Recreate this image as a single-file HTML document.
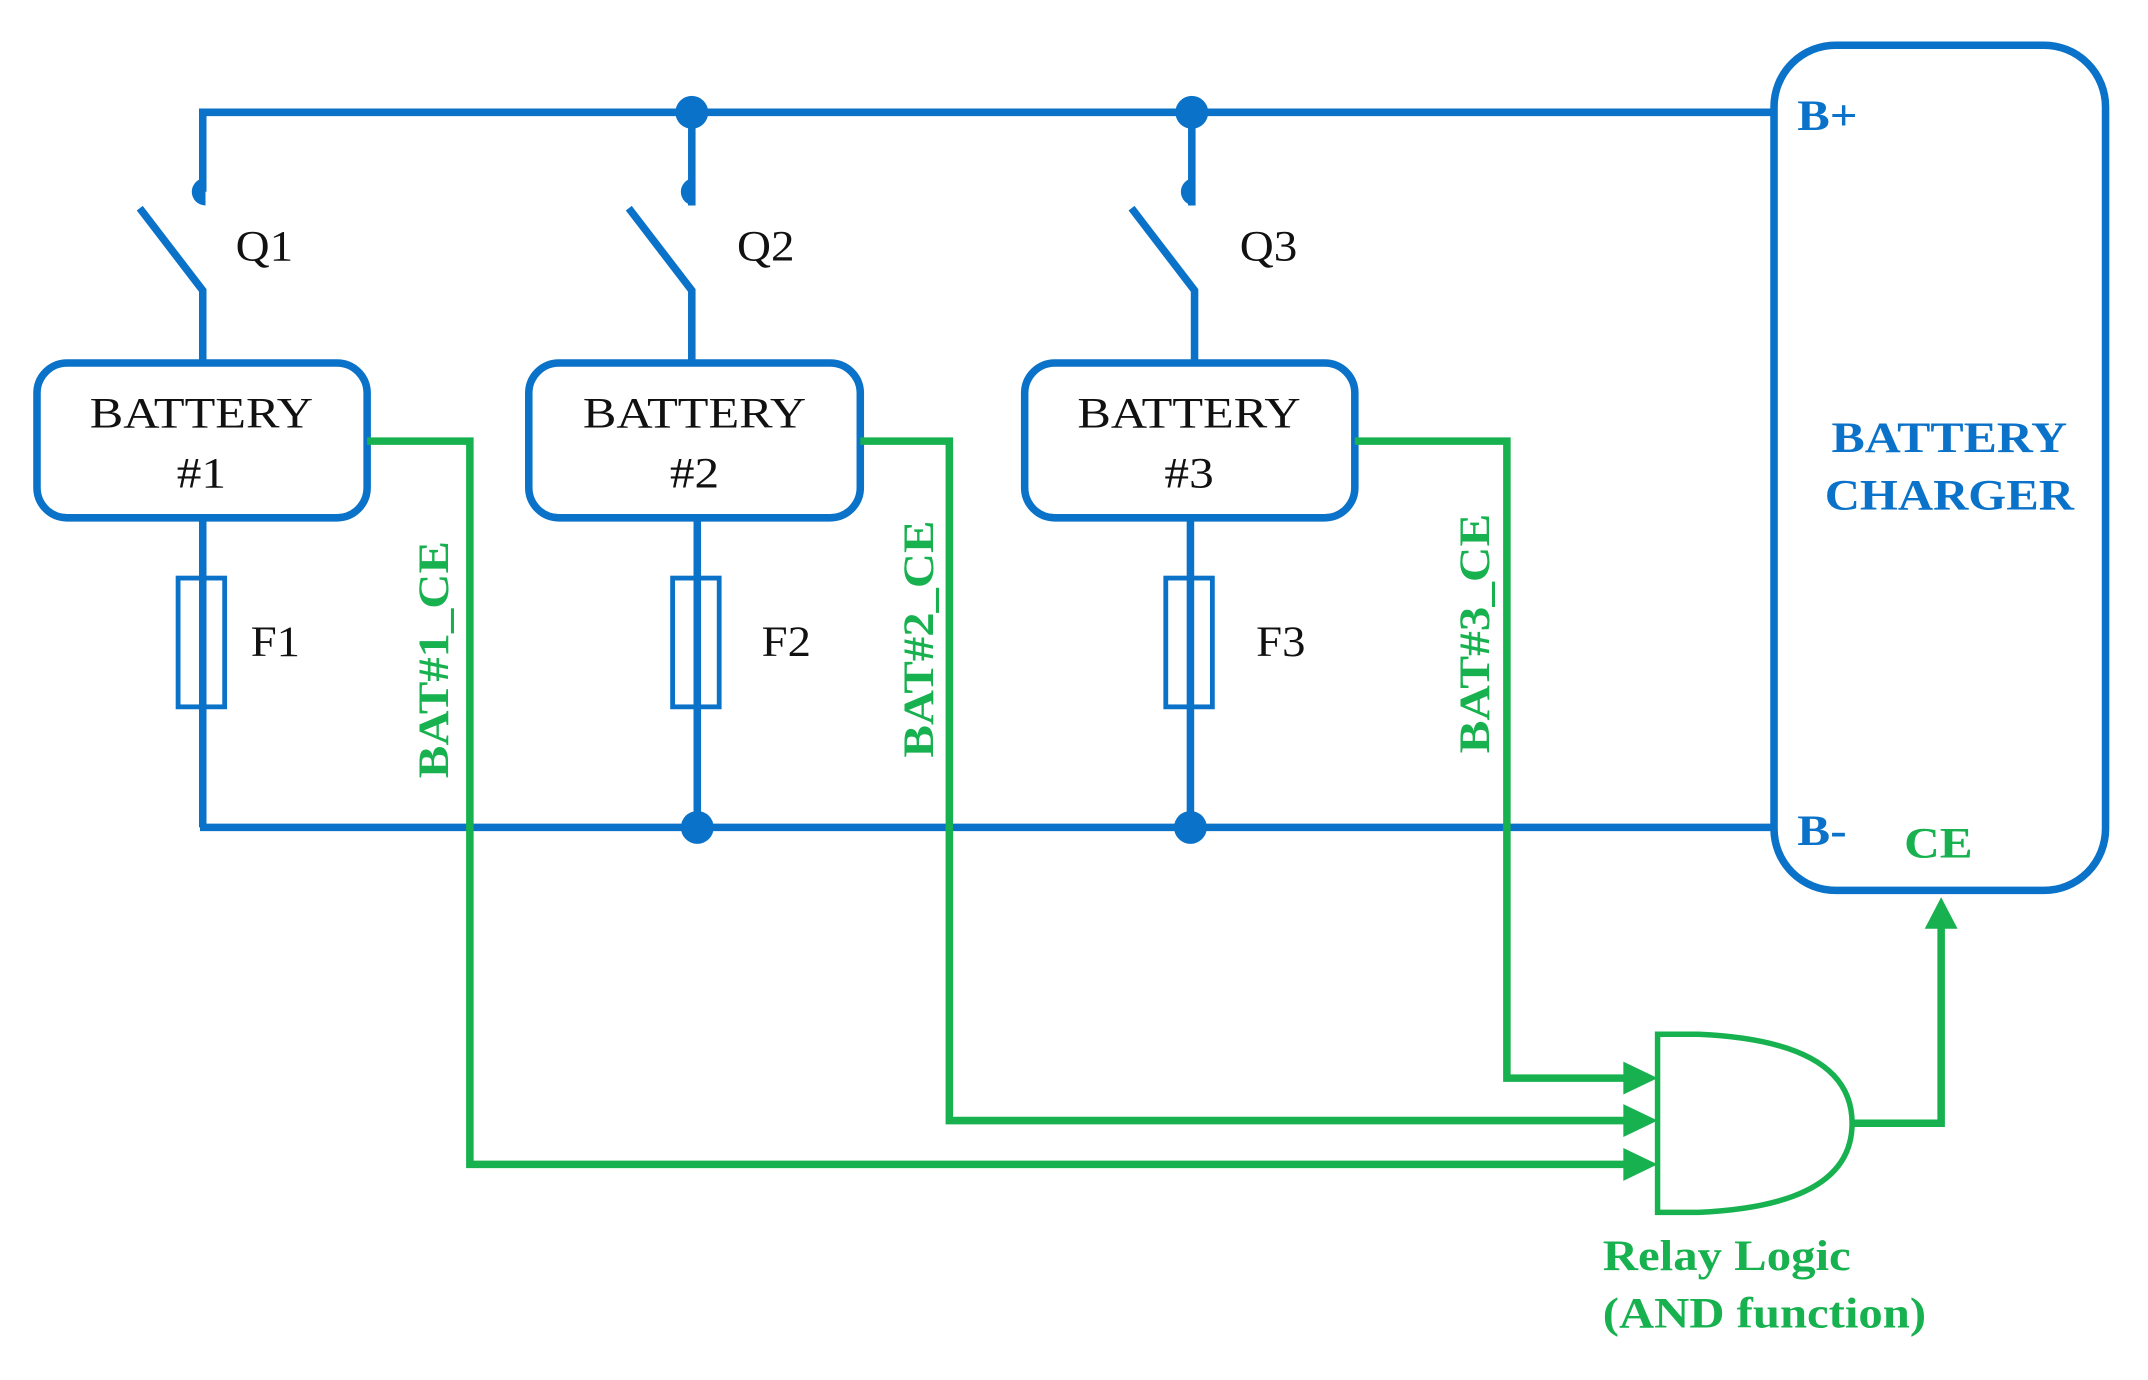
<!DOCTYPE html>
<html><head><meta charset="utf-8"><style>
html,body{margin:0;padding:0;background:#fff;}
svg{display:block;}
text{font-family:"Liberation Serif",serif;}
</style></head><body>
<svg width="2148" height="1380" viewBox="0 0 1568 1007.4" preserveAspectRatio="none" xmlns="http://www.w3.org/2000/svg">
<g stroke="#0a72c8" stroke-width="5.5" fill="none">
  <polyline points="148,140 148,82 1295,82"/>
  <line x1="505" y1="82" x2="505" y2="150"/>
  <line x1="870" y1="82" x2="870" y2="150"/>
  <polyline points="102,152 148,212 148,265"/>
  <polyline points="459,152 505,212 505,265"/>
  <polyline points="826,152 872,212 872,265"/>
  <rect x="27" y="265" width="241" height="113" rx="22"/>
  <rect x="386" y="265" width="242" height="113" rx="22"/>
  <rect x="748" y="265" width="241" height="113" rx="22"/>
  <line x1="148" y1="378" x2="148" y2="604"/>
  <line x1="509" y1="378" x2="509" y2="604"/>
  <line x1="869" y1="378" x2="869" y2="604"/>
  <rect x="130" y="422" width="34" height="94" stroke-width="3.5"/>
  <rect x="491" y="422" width="34" height="94" stroke-width="3.5"/>
  <rect x="851" y="422" width="34" height="94" stroke-width="3.5"/>
  <line x1="146" y1="604" x2="1295" y2="604"/>
  <rect x="1295" y="33" width="242" height="617" rx="45"/>
</g>
<g fill="#0a72c8">
  <circle cx="505" cy="82" r="12"/>
  <circle cx="870" cy="82" r="12"/>
  <circle cx="509" cy="604" r="12"/>
  <circle cx="869" cy="604" r="12"/>
  <path d="M150,130 A9,9 0 0 0 150,150 Z"/>
  <path d="M507,130 A9,9 0 0 0 507,150 Z"/>
  <path d="M872,130 A9,9 0 0 0 872,150 Z"/>
</g>
<g font-size="32" fill="#111" text-anchor="middle" lengthAdjust="spacingAndGlyphs">
  <text x="147" y="312" textLength="163" lengthAdjust="spacingAndGlyphs">BATTERY</text><text x="147" y="356" textLength="36" lengthAdjust="spacingAndGlyphs">#1</text>
  <text x="507" y="312" textLength="163" lengthAdjust="spacingAndGlyphs">BATTERY</text><text x="507" y="356" textLength="36" lengthAdjust="spacingAndGlyphs">#2</text>
  <text x="868" y="312" textLength="163" lengthAdjust="spacingAndGlyphs">BATTERY</text><text x="868" y="356" textLength="36" lengthAdjust="spacingAndGlyphs">#3</text>
</g>
<g font-size="32" fill="#111">
  <text x="172" y="190" textLength="42" lengthAdjust="spacingAndGlyphs">Q1</text><text x="538" y="190" textLength="42" lengthAdjust="spacingAndGlyphs">Q2</text><text x="905" y="190" textLength="42" lengthAdjust="spacingAndGlyphs">Q3</text>
  <text x="183" y="479" textLength="36" lengthAdjust="spacingAndGlyphs">F1</text><text x="556" y="479" textLength="36" lengthAdjust="spacingAndGlyphs">F2</text><text x="917" y="479" textLength="36" lengthAdjust="spacingAndGlyphs">F3</text>
</g>
<g font-size="32" font-weight="bold" fill="#0a72c8">
  <text x="1312" y="95" textLength="44" lengthAdjust="spacingAndGlyphs">B+</text>
  <text x="1312" y="617" textLength="36" lengthAdjust="spacingAndGlyphs">B-</text>
  <text x="1423" y="330" text-anchor="middle" textLength="172" lengthAdjust="spacingAndGlyphs">BATTERY</text>
  <text x="1423" y="372" text-anchor="middle" textLength="182" lengthAdjust="spacingAndGlyphs">CHARGER</text>
</g>
<g stroke="#17b24f" stroke-width="5.5" fill="none">
  <polyline points="268,322 343,322 343,850 1190,850"/>
  <polyline points="628,322 693,322 693,818 1190,818"/>
  <polyline points="989,322 1100,322 1100,787 1190,787"/>
  <path d="M1210,755 L1240,755 Q1352,760 1352,820 Q1352,880 1240,885 L1210,885 Z" stroke-width="4"/>
  <polyline points="1352,820 1417,820 1417,675"/>
</g>
<g fill="#17b24f">
  <polygon points="1185,775 1210,787 1185,799"/>
  <polygon points="1185,806 1210,818 1185,830"/>
  <polygon points="1185,838 1210,850 1185,862"/>
  <polygon points="1405,678 1417,655 1429,678"/>
</g>
<g font-size="32" font-weight="bold" fill="#17b24f">
  <text x="1390" y="626" textLength="50" lengthAdjust="spacingAndGlyphs">CE</text>
  <text transform="translate(327,568) rotate(-90)" textLength="173" lengthAdjust="spacingAndGlyphs">BAT#1_CE</text>
  <text transform="translate(681,553) rotate(-90)" textLength="173" lengthAdjust="spacingAndGlyphs">BAT#2_CE</text>
  <text transform="translate(1087,550) rotate(-90)" textLength="175" lengthAdjust="spacingAndGlyphs">BAT#3_CE</text>
  <text x="1170" y="927" textLength="181" lengthAdjust="spacingAndGlyphs">Relay Logic</text>
  <text x="1170" y="969" textLength="236" lengthAdjust="spacingAndGlyphs">(AND function)</text>
</g>
</svg>
</body></html>
